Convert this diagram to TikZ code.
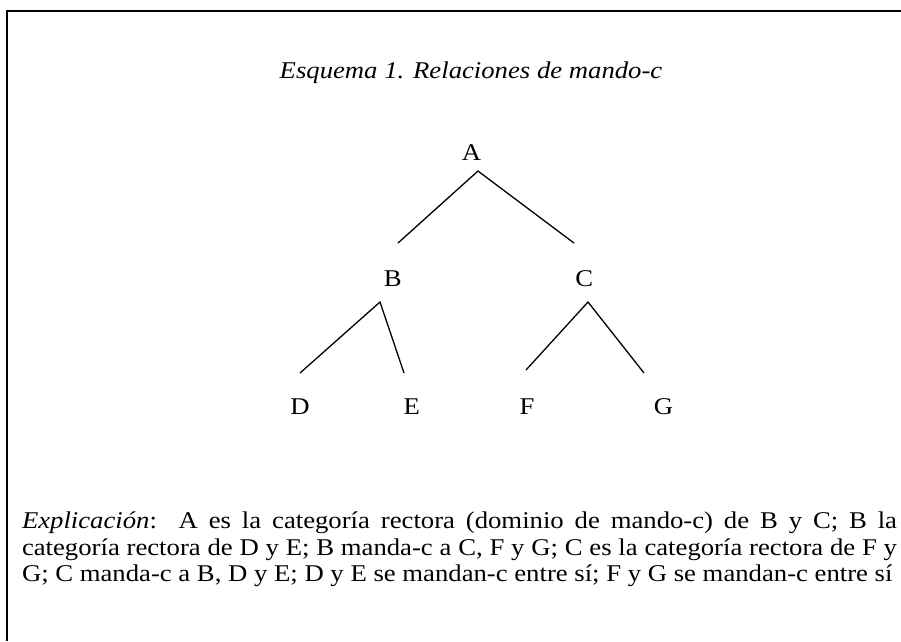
\documentclass[tikz,border=0pt]{standalone}
\usepackage{graphicx}
\usepackage{fontspec}
\setmainfont{Liberation Serif}
\newcommand{\vsq}[1]{\scalebox{1}[0.9]{#1}}
\begin{document}
\begin{tikzpicture}[x=1pt,y=-1pt,
  txt/.style={inner sep=0pt, outer sep=0pt, font=\fontsize{26.7}{26.7}\selectfont},
  lbl/.style={txt, anchor=base},
  edge/.style={line width=1.3pt},
  frame/.style={line width=2pt}]
\useasboundingbox (0,0) rectangle (901,641);
% frame (open at right and bottom)
\coordinate (fTL) at (7,11);
\coordinate (fTR) at (901,11);
\coordinate (fBL) at (7,641);
\draw[frame] (fTR) -- (fTL) -- (fBL);
% title
\node[lbl] (title) at (471,78) {\vsq{\textit{Esquema 1. Relaciones de mando-c}}};
% tree
\node[lbl] (A) at (471.5,160.7) {\vsq{A}};
\node[lbl] (B) at (392.8,286) {\vsq{B}};
\node[lbl] (C) at (584.3,286) {\vsq{C}};
\node[lbl] (D) at (300,414) {\vsq{D}};
\node[lbl] (E) at (411.7,414) {\vsq{E}};
\node[lbl] (F) at (527,414) {\vsq{F}};
\node[lbl] (G) at (663.5,414) {\vsq{G}};
\draw[edge] ([shift={(5.2,-43)}]B.base) -- ([shift={(6.5,10.3)}]A.base) -- ([shift={(-10.3,-43)}]C.base);
\draw[edge] ([shift={(0,-41)}]D.base) -- ([shift={(-12.8,16)}]B.base) -- ([shift={(-7.7,-41)}]E.base);
\draw[edge] ([shift={(-1,-44)}]F.base) -- ([shift={(3.7,16)}]C.base) -- ([shift={(-19.5,-41)}]G.base);
% explanation
\node[txt, anchor=base west] (l1) at (22,528.3) {\vsq{\makebox[875pt][s]{\textit{Explicación}:\ \ A es la categoría rectora (dominio de mando-c) de B y C; B la}}};
\node[txt, anchor=base west] (l2) at (22,555) {\vsq{\makebox[875pt][s]{categoría rectora de D y E; B manda-c a C, F y G; C es la categoría rectora de F y}}};
\node[txt, anchor=base west] (l3) at (22,581.7) {\vsq{G; C manda-c a B, D y E; D y E se mandan-c entre sí; F y G se mandan-c entre sí}};
\end{tikzpicture}
\end{document}
